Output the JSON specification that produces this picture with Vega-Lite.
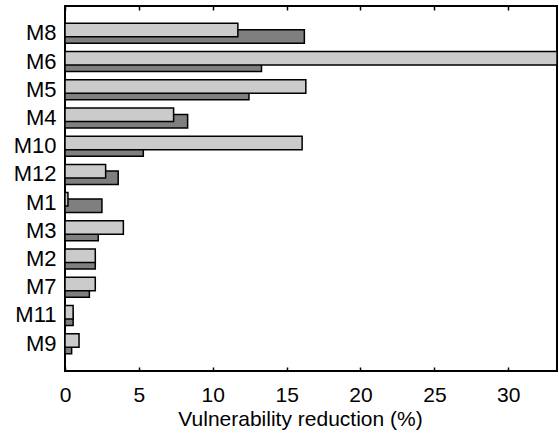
{
  "$schema": "https://vega.github.io/schema/vega-lite/v6.json",
  "autosize": {"type": "none"},
  "padding": {"left": 65, "top": 6, "right": 2, "bottom": 64},
  "width": 492,
  "height": 365,
  "config": {
    "font": "Liberation Sans",
    "view": {"stroke": "black", "strokeWidth": 2},
    "axis": {"labelColor": "black", "titleColor": "black", "grid": false}
  },
  "data": {
    "values": [
      {"model": "M8", "light": 11.7, "dark": 16.2},
      {"model": "M6", "light": 33.3, "dark": 13.3},
      {"model": "M5", "light": 16.3, "dark": 12.45},
      {"model": "M4", "light": 7.35, "dark": 8.3},
      {"model": "M10", "light": 16.05, "dark": 5.3},
      {"model": "M12", "light": 2.75, "dark": 3.6},
      {"model": "M1", "light": 0.2, "dark": 2.5},
      {"model": "M3", "light": 3.95, "dark": 2.25},
      {"model": "M2", "light": 2.05, "dark": 2.05},
      {"model": "M7", "light": 2.05, "dark": 1.65},
      {"model": "M11", "light": 0.55, "dark": 0.55},
      {"model": "M9", "light": 0.95, "dark": 0.45}
    ]
  },
  "encoding": {
    "y": {
      "field": "model",
      "type": "nominal",
      "sort": null,
      "scale": {"paddingInner": 0, "paddingOuter": 0.47},
      "axis": {
        "title": null,
        "domain": false,
        "ticks": false,
        "labelFontSize": 22,
        "labelPadding": 9
      }
    }
  },
  "layer": [
    {
      "mark": {"type": "bar", "height": 13.5, "yOffset": 3.25, "fill": "#7f7f7f", "stroke": "black", "strokeWidth": 1.5},
      "encoding": {
        "x": {
          "field": "dark",
          "type": "quantitative",
          "scale": {"domain": [0, 33.3], "nice": false, "zero": true},
          "axis": {
            "orient": "bottom",
            "values": [0, 5, 10, 15, 20, 25, 30],
            "domain": false,
            "tickSize": -4,
            "tickColor": "black",
            "tickWidth": 1.5,
            "labelFontSize": 21,
            "labelFlush": false,
            "labelPadding": 17,
            "title": "Vulnerability reduction (%)",
            "titleFontSize": 21,
            "titleFontWeight": "normal",
            "titlePadding": 3,
            "titleX": 235,
            "titleAlign": "center"
          }
        }
      }
    },
    {
      "mark": {"type": "bar", "height": 13.5, "yOffset": -3.25, "fill": "#cbcbcb", "stroke": "black", "strokeWidth": 1.5},
      "encoding": {
        "x": {
          "field": "light",
          "type": "quantitative",
          "axis": {
            "orient": "top",
            "values": [0, 5, 10, 15, 20, 25, 30],
            "domain": false,
            "labels": false,
            "tickSize": -4,
            "tickColor": "black",
            "tickWidth": 1.5,
            "title": null
          }
        }
      }
    }
  ],
  "resolve": {"axis": {"x": "independent"}}
}
